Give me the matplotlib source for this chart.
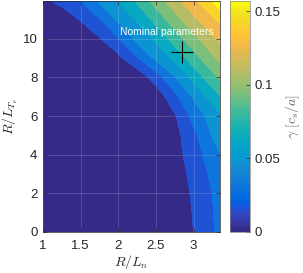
import numpy as np
import matplotlib
matplotlib.use('Agg')
import matplotlib.pyplot as plt
from matplotlib.colors import ListedColormap, Normalize
from matplotlib.cm import ScalarMappable
from matplotlib.ticker import FormatStrFormatter

# scan grid (R/Ln along x, R/LTe along y) and growth rate
r_ln = [1.0, 1.25, 1.5, 1.75, 2.0, 2.25, 2.5, 2.75, 3.0, 3.25, 3.5]
r_lte = [0, 1, 2, 3, 4, 5, 6, 7, 8, 9, 10, 11, 12]
gamma = [
    [0, 0, 0, 0, 0, 0, 0, 0.003, 0.0151, 0.028, 0.045],
    [0, 0, 0, 0, 0, 0, 0, 0.004, 0.016, 0.029, 0.046],
    [0, 0, 0, 0, 0, 0, 0, 0.005, 0.0175, 0.0301, 0.0485],
    [0, 0, 0, 0, 0, 0, 0, 0.007, 0.0195, 0.0332, 0.050],
    [0, 0, 0, 0, 0, 0, 0, 0.0093, 0.0222, 0.0383, 0.053],
    [0, 0, 0, 0, 0, 0, 0, 0.0098, 0.0261, 0.0458, 0.056],
    [0, 0, 0, 0, 0, 0, 0, 0.0133, 0.035, 0.052, 0.0675],
    [0, 0, 0, 0, 0, 0, 0.005, 0.0258, 0.0471, 0.0662, 0.0863],
    [0, 0, 0, 0, 0, 0.004, 0.0225, 0.044, 0.065, 0.0848, 0.1042],
    [0, 0, 0, 0, 0.0107, 0.0286, 0.0485, 0.064, 0.0837, 0.1021, 0.1176],
    [0, 0, 0, 0.0138, 0.0288, 0.0488, 0.063, 0.0821, 0.1002, 0.1173, 0.1309],
    [0, 0.004, 0.0165, 0.029, 0.0482, 0.062, 0.0803, 0.0988, 0.1163, 0.1315, 0.153],
    [0.012, 0.021, 0.0307, 0.0477, 0.0613, 0.0785, 0.0972, 0.115, 0.1324, 0.1515, 0.170],
]
levels = [-0.001, 0.015, 0.03, 0.045, 0.06, 0.075, 0.09, 0.105, 0.12, 0.135, 0.15, 0.2]
gamma_max = 0.157
cbar_ticks = [0, 0.05, 0.1, 0.15]
nominal_ln, nominal_lte = 2.85, 9.32

# matlab parula colormap
parula = ListedColormap([
    [0.2081, 0.1663, 0.5292], [0.2116, 0.1898, 0.5777], [0.2123, 0.2138, 0.6270],
    [0.2081, 0.2386, 0.6771], [0.1959, 0.2645, 0.7279], [0.1707, 0.2919, 0.7792],
    [0.1253, 0.3242, 0.8303], [0.0591, 0.3598, 0.8683], [0.0117, 0.3875, 0.8820],
    [0.0060, 0.4086, 0.8828], [0.0165, 0.4266, 0.8786], [0.0329, 0.4430, 0.8720],
    [0.0498, 0.4586, 0.8641], [0.0629, 0.4737, 0.8554], [0.0723, 0.4887, 0.8467],
    [0.0779, 0.5040, 0.8384], [0.0793, 0.5200, 0.8312], [0.0749, 0.5375, 0.8263],
    [0.0641, 0.5570, 0.8240], [0.0488, 0.5772, 0.8228], [0.0343, 0.5966, 0.8199],
    [0.0265, 0.6137, 0.8135], [0.0239, 0.6287, 0.8038], [0.0231, 0.6418, 0.7913],
    [0.0228, 0.6535, 0.7768], [0.0267, 0.6642, 0.7607], [0.0384, 0.6743, 0.7436],
    [0.0590, 0.6838, 0.7254], [0.0843, 0.6928, 0.7062], [0.1133, 0.7015, 0.6859],
    [0.1453, 0.7098, 0.6646], [0.1801, 0.7177, 0.6424], [0.2178, 0.7250, 0.6193],
    [0.2586, 0.7317, 0.5954], [0.3022, 0.7376, 0.5712], [0.3482, 0.7424, 0.5473],
    [0.3953, 0.7459, 0.5244], [0.4420, 0.7481, 0.5033], [0.4871, 0.7491, 0.4840],
    [0.5300, 0.7491, 0.4661], [0.5709, 0.7485, 0.4494], [0.6099, 0.7473, 0.4337],
    [0.6473, 0.7456, 0.4188], [0.6834, 0.7435, 0.4044], [0.7184, 0.7411, 0.3905],
    [0.7525, 0.7384, 0.3768], [0.7858, 0.7356, 0.3633], [0.8185, 0.7327, 0.3498],
    [0.8507, 0.7299, 0.3360], [0.8824, 0.7274, 0.3217], [0.9139, 0.7258, 0.3063],
    [0.9450, 0.7261, 0.2886], [0.9739, 0.7314, 0.2666], [0.9938, 0.7455, 0.2403],
    [0.9990, 0.7653, 0.2164], [0.9955, 0.7861, 0.1967], [0.9880, 0.8066, 0.1794],
    [0.9789, 0.8271, 0.1633], [0.9697, 0.8481, 0.1475], [0.9626, 0.8705, 0.1309],
    [0.9589, 0.8949, 0.1132], [0.9598, 0.9218, 0.0948], [0.9661, 0.9514, 0.0755],
    [0.9763, 0.9831, 0.0538]])

plt.rcParams['font.family'] = ['Liberation Sans', 'DejaVu Sans']
plt.rcParams['mathtext.fontset'] = 'cm'
dark = '#262626'

fig = plt.figure(figsize=(3.03, 2.73), dpi=100)
ax = fig.add_axes([43 / 303, 41 / 273, 177 / 303, 231 / 273])
cax = fig.add_axes([230 / 303, 41 / 273, 20 / 303, 231 / 273])

X, Y = np.meshgrid(r_ln, r_lte)
nb = len(levels) - 1
band_colors = [parula(i / (nb - 1)) for i in range(nb)]
ax.contourf(X, Y, np.array(gamma), levels=levels, colors=band_colors)

ax.plot(nominal_ln, nominal_lte, '+', color='k', ms=16, mew=0.8, zorder=5)
ax.text(2.65, 10.34, 'Nominal parameters', color='w', fontsize=7.5,
        ha='center', va='center', zorder=5)

ax.set_xlim(1, 3.35)
ax.set_ylim(0, 11.95)
ax.set_xticks([1, 1.5, 2, 2.5, 3])
ax.set_xticklabels(['1', '1.5', '2', '2.5', '3'])
ax.set_yticks([0, 2, 4, 6, 8, 10])
ax.set_axisbelow(False)
ax.grid(True, color='w', alpha=0.18, lw=0.6)
ax.tick_params(direction='in', top=True, right=True, length=3, width=0.5,
               color=dark, labelcolor=dark, labelsize=9.5)
ax.tick_params(axis='x', pad=5.5)
ax.tick_params(axis='y', pad=4)
for s in ax.spines.values():
    s.set_color(dark)
    s.set_linewidth(0.5)
ax.set_xlabel(r'$R/L_n$', fontsize=10, color=dark, labelpad=1)
ax.set_ylabel(r'$R/L_{T_e}$', fontsize=10, color=dark, labelpad=1.5)

cb = fig.colorbar(ScalarMappable(norm=Normalize(0, gamma_max), cmap=parula), cax=cax)
cb.set_ticks(cbar_ticks)
cb.ax.yaxis.set_major_formatter(FormatStrFormatter('%g'))
cb.ax.tick_params(direction='in', length=3, width=0.5, color=dark,
                  labelcolor=dark, labelsize=9.5, pad=3.5)
cb.outline.set_edgecolor('#808080')
cb.outline.set_linewidth(0.5)
cb.set_label(r'$\gamma\ [c_s/a]$', fontsize=10, color='#666666', labelpad=2)

fig.savefig('out.png', dpi=100)
